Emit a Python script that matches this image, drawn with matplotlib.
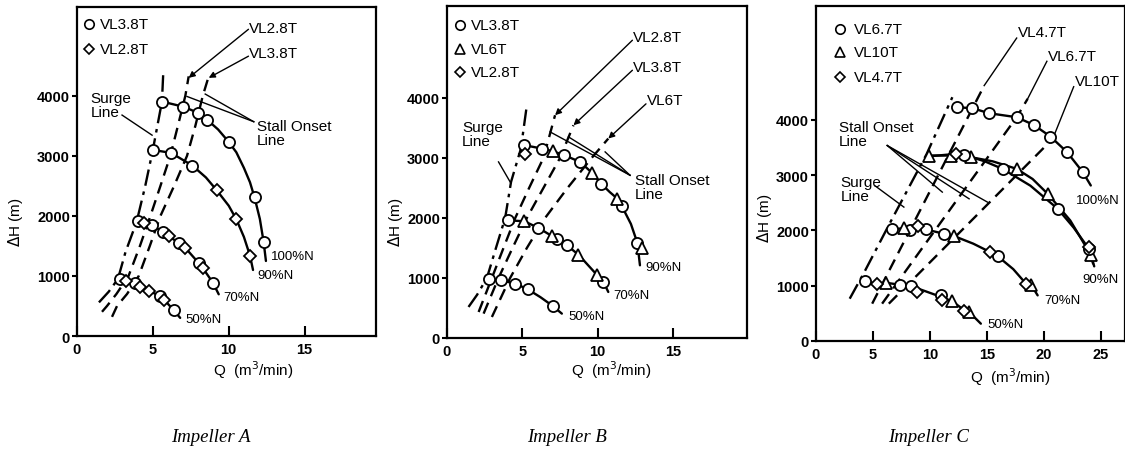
import matplotlib
matplotlib.use('Agg')
import matplotlib.pyplot as plt

plt.rcParams['font.family'] = ['Liberation Sans', 'DejaVu Sans']

# ======================= Impeller A =======================
A_LEG = ['VL3.8T', 'VL2.8T']            # circle, diamond
A100_Q_O = [5.6, 7.0, 7.96, 8.6, 10.0, 11.7, 12.3]
A100_H_O = [3905, 3820, 3720, 3597, 3232, 2308, 1563]
A100_LQ = [5.6, 7.0, 7.96, 8.6, 9.3, 10.0, 10.5, 11.0, 11.4, 11.7, 12.05, 12.3, 12.45]
A100_LH = [3905, 3820, 3720, 3597, 3440, 3232, 3060, 2800, 2560, 2308, 1950, 1563, 1250]

A90_Q_O = [5.0, 6.2, 7.6]
A90_H_O = [3100, 3050, 2840]
A90_Q_D = [9.2, 10.5, 11.4]
A90_H_D = [2430, 1944, 1339]
A90_LQ = [5.0, 6.2, 7.6, 8.5, 9.2, 10.0, 10.5, 11.0, 11.4, 11.6]
A90_LH = [3100, 3050, 2840, 2640, 2430, 2170, 1944, 1650, 1339, 1100]

A70_Q_O = [4.0, 4.95, 5.65, 6.7, 8.02, 8.95]
A70_H_O = [1916, 1843, 1737, 1552, 1216, 891]
A70_Q_D = [4.44, 6.04, 7.14, 8.29]
A70_H_D = [1882, 1664, 1468, 1132]
A70_LQ = [4.0, 4.44, 4.95, 5.65, 6.04, 6.7, 7.14, 8.02, 8.29, 8.95, 9.34]
A70_LH = [1916, 1882, 1843, 1737, 1664, 1552, 1468, 1216, 1132, 891, 695]

A50_Q_O = [2.86, 3.85, 5.45, 6.37]
A50_H_O = [947, 880, 667, 431]
A50_Q_D = [3.25, 4.18, 4.77, 5.76]
A50_H_D = [919, 824, 750, 600]
A50_LQ = [2.86, 3.25, 3.85, 4.18, 4.77, 5.45, 5.76, 6.37, 6.8]
A50_LH = [947, 919, 880, 824, 750, 667, 600, 431, 302]

A_SURGE_Q = [1.45, 2.1, 2.7, 3.2, 3.93, 4.5, 5.0, 5.6, 5.68]
A_SURGE_H = [560, 740, 950, 1400, 1900, 2500, 3100, 3905, 4350]
A_ST28_Q = [1.65, 1.98, 2.6, 3.4, 4.15, 4.84, 5.5, 6.15, 6.65, 7.14, 7.36]
A_ST28_H = [403, 500, 700, 1000, 1500, 2000, 2500, 3000, 3500, 4000, 4325]
A_ST38_Q = [2.31, 2.64, 3.3, 4.07, 4.8, 5.5, 6.4, 7.25, 7.8, 8.29, 8.68]
A_ST38_H = [319, 500, 700, 1000, 1500, 2000, 2500, 3000, 3500, 4000, 4325]

# ======================= Impeller B =======================
B_LEG = ['VL3.8T', 'VL6T', 'VL2.8T']    # circle, triangle, diamond
B90_Q_O = [5.14, 6.29, 7.79, 8.83, 10.22, 11.59, 12.63]
B90_H_O = [3211, 3156, 3044, 2933, 2572, 2200, 1583]
B90_Q_T = [7.02, 9.6, 11.3, 12.91]
B90_H_T = [3111, 2756, 2322, 1500]
B90_Q_D = [5.19]
B90_H_D = [3072]
B90_LQ = [5.14, 6.29, 7.02, 7.79, 8.83, 9.6, 10.22, 10.8, 11.3, 11.59, 12.2, 12.63, 12.8]
B90_LH = [3211, 3156, 3111, 3044, 2933, 2756, 2572, 2430, 2322, 2200, 1900, 1583, 1211]

B70_Q_O = [4.04, 6.07, 7.28, 7.95, 10.38]
B70_H_O = [1961, 1833, 1656, 1544, 933]
B70_Q_T = [5.14, 6.95, 8.72, 9.93]
B70_H_T = [1944, 1700, 1389, 1056]
B70_LQ = [4.04, 5.14, 6.07, 6.95, 7.28, 7.95, 8.72, 9.93, 10.38, 10.7]
B70_LH = [1961, 1944, 1833, 1700, 1656, 1544, 1389, 1056, 933, 767]

B50_Q_O = [2.8, 3.6, 4.53, 5.36, 7.02]
B50_H_O = [978, 961, 906, 811, 533]
B50_LQ = [2.8, 3.6, 4.53, 5.36, 6.2, 7.02, 7.62]
B50_LH = [978, 961, 906, 811, 680, 533, 406]

B_SURGE_Q = [1.43, 2.0, 2.65, 3.25, 3.86, 4.25, 4.9, 5.3]
B_SURGE_H = [517, 720, 1000, 1500, 2000, 2600, 3150, 3880]
B_ST28_Q = [2.1, 2.98, 3.75, 4.53, 5.45, 6.4, 7.17]
B_ST28_H = [433, 1000, 1500, 2000, 2500, 3000, 3711]
B_ST38_Q = [2.43, 3.42, 4.35, 5.3, 6.4, 7.5, 8.39]
B_ST38_H = [406, 1000, 1500, 2000, 2500, 3000, 3544]
B_ST6_Q = [2.98, 4.19, 5.3, 6.51, 8.0, 9.6, 10.7]
B_ST6_H = [350, 1000, 1500, 2000, 2500, 3000, 3322]

# ======================= Impeller C =======================
C_LEG = ['VL6.7T', 'VL10T', 'VL4.7T']   # circle, triangle, diamond
C100_Q_O = [12.35, 13.72, 15.19, 17.6, 19.09, 20.56, 22.02, 23.4]
C100_H_O = [4229, 4211, 4120, 4048, 3910, 3699, 3416, 3054]
C100_LQ = [12.35, 13.72, 15.19, 17.6, 19.09, 20.56, 22.02, 23.4, 24.1]
C100_LH = [4229, 4211, 4120, 4048, 3910, 3699, 3416, 3054, 2813]

C90_Q_T = [9.91, 11.82, 13.58, 17.6, 20.32, 24.13]
C90_H_T = [3355, 3355, 3325, 3114, 2663, 1548]
C90_Q_O = [12.99, 16.36, 21.2, 23.93]
C90_H_O = [3367, 3114, 2392, 1669]
C90_Q_D = [12.32, 23.9]
C90_H_D = [3386, 1700]
C90_LQ_T = [9.91, 11.82, 13.58, 15.5, 17.6, 19.0, 20.32, 22.3, 24.13, 24.4]
C90_LH_T = [3355, 3355, 3325, 3250, 3114, 2930, 2663, 2180, 1548, 1350]
C90_LQ_O = [9.91, 12.32, 12.99, 14.8, 16.36, 18.8, 21.2, 22.6, 23.93, 24.3]
C90_LH_O = [3340, 3386, 3367, 3250, 3114, 2810, 2392, 2050, 1669, 1400]

C70_Q_O = [6.69, 8.24, 9.62, 11.23, 15.92]
C70_H_O = [2018, 2012, 2018, 1940, 1536]
C70_Q_T = [7.71, 12.11, 18.86]
C70_H_T = [2042, 1898, 1018]
C70_Q_D = [8.97, 15.28, 18.42]
C70_H_D = [2072, 1608, 1036]
C70_LQ = [6.69, 7.71, 8.97, 9.62, 11.23, 12.11, 13.8, 15.28, 15.92, 17.3, 18.42, 18.86, 19.44]
C70_LH = [2018, 2042, 2060, 2018, 1940, 1898, 1760, 1608, 1536, 1300, 1036, 1018, 825]

C50_Q_O = [4.28, 7.36, 8.3, 10.94]
C50_H_O = [1078, 1018, 994, 825]
C50_Q_T = [6.1, 11.96, 13.43]
C50_H_T = [1054, 717, 524]
C50_Q_D = [5.37, 8.89, 11.08, 12.99]
C50_H_D = [1036, 886, 735, 542]
C50_LQ = [4.28, 5.37, 6.1, 7.36, 8.3, 9.6, 10.94, 11.96, 12.99, 13.43, 14.46]
C50_LH = [1078, 1036, 1054, 1018, 994, 900, 800, 717, 560, 524, 313]

C_SURGE_Q = [2.96, 4.2, 6.5, 9.7, 11.96]
C_SURGE_H = [765, 1230, 2140, 3380, 4410]
C_ST47_Q = [4.93, 14.75]
C_ST47_H = [675, 4620]
C_ST67_Q = [5.8, 17.6, 18.56]
C_ST67_H = [675, 4048, 4380]
C_ST10_Q = [6.39, 20.76]
C_ST10_H = [675, 3657]

# ======================= drawing =======================
K = 'black'
fig = plt.figure(figsize=(11.25, 4.52), dpi=100)

MS = 8
MARK = {'o': dict(marker='o', ms=MS), '^': dict(marker='^', ms=MS), 'D': dict(marker='D', ms=MS * 0.72)}


def marks(ax, q, h, m):
    ax.plot(q, h, ls='none', mfc='white', mec=K, mew=1.3, zorder=5, **MARK[m])


def curve(ax, q, h):
    ax.plot(q, h, color=K, lw=1.7, zorder=3, solid_capstyle='round')


def surge(ax, q, h):
    ax.plot(q, h, color=K, lw=1.7, dashes=(7, 2.5, 1.5, 2.5), zorder=2)


def stall(ax, q, h):
    ax.plot(q, h, color=K, lw=1.7, dashes=(5, 3), zorder=2)


def leader(ax, x0, y0, x1, y1, arrow=False):
    if arrow:
        ax.annotate('', xy=(x1, y1), xytext=(x0, y0),
                    arrowprops=dict(arrowstyle='-|>', color=K, lw=1.0,
                                    mutation_scale=9, shrinkA=0, shrinkB=0))
    else:
        ax.plot([x0, x1], [y0, y1], color=K, lw=1.0, zorder=4)


def style(ax, xmax, ymax, xt, xlab_x, xlab_y, ylab_x, ylab_y):
    ax.set_xlim(0, xmax)
    ax.set_ylim(0, ymax)
    ax.set_xticks(xt)
    ax.set_yticks([0, 1000, 2000, 3000, 4000])
    for s in ax.spines.values():
        s.set_linewidth(1.6)
    ax.tick_params(axis='x', direction='in', length=7, width=1.5, labelsize=10.5, pad=4)
    ax.tick_params(axis='y', direction='out', length=3.5, width=1.5, labelsize=10.5, pad=1.5)
    for lab in ax.get_xticklabels() + ax.get_yticklabels():
        lab.set_fontweight('bold')
    ax.text(xlab_x, xlab_y, r'Q  (m$^3$/min)', transform=ax.transAxes,
            ha='center', va='center', fontsize=11)
    ax.text(ylab_x, ylab_y, r'$\Delta$H (m)', transform=ax.transAxes, rotation=90,
            ha='center', va='center', fontsize=11)


def legend(ax, labels, markers, xm, xt, ys):
    for lab, m, y in zip(labels, markers, ys):
        ax.plot([xm], [y], ls='none', mfc='white', mec=K, mew=1.2, zorder=5,
                **{**MARK[m], 'ms': MARK[m]['ms'] * 0.85})
        ax.text(xt, y, lab, ha='left', va='center', fontsize=11)


FS = 11
SFS = 9.5

# ---- A ----
ax = fig.add_axes([0.0684, 0.2544, 0.2658, 0.7279])
style(ax, 19.7, 5480, [0, 5, 10, 15], 0.59, -0.10, -0.207, 0.35)
surge(ax, A_SURGE_Q, A_SURGE_H)
stall(ax, A_ST28_Q, A_ST28_H)
stall(ax, A_ST38_Q, A_ST38_H)
for lq, lh in [(A100_LQ, A100_LH), (A90_LQ, A90_LH), (A70_LQ, A70_LH), (A50_LQ, A50_LH)]:
    curve(ax, lq, lh)
for q, h, m in [(A100_Q_O, A100_H_O, 'o'), (A90_Q_O, A90_H_O, 'o'), (A90_Q_D, A90_H_D, 'D'),
                (A70_Q_O, A70_H_O, 'o'), (A70_Q_D, A70_H_D, 'D'),
                (A50_Q_O, A50_H_O, 'o'), (A50_Q_D, A50_H_D, 'D')]:
    marks(ax, q, h, m)
legend(ax, A_LEG, ['o', 'D'], 0.77, 1.5, [5193, 4773])
ax.text(11.3, 5137, 'VL2.8T', fontsize=FS, va='center')
ax.text(11.3, 4717, 'VL3.8T', fontsize=FS, va='center')
leader(ax, 11.3, 5109, 7.36, 4300, arrow=True)
leader(ax, 11.3, 4661, 8.68, 4300, arrow=True)
ax.text(0.9, 3850, 'Surge\nLine', fontsize=FS, va='center', linespacing=1.0)
leader(ax, 2.97, 3680, 4.95, 3345)
ax.text(11.85, 3380, 'Stall Onset\nLine', fontsize=FS, va='center', linespacing=1.0)
leader(ax, 11.65, 3569, 7.25, 3990)
leader(ax, 11.65, 3569, 8.45, 4030)
ax.text(12.75, 1328, '100%N', fontsize=SFS, va='center')
ax.text(11.87, 1020, '90%N', fontsize=SFS, va='center')
ax.text(9.67, 655, '70%N', fontsize=SFS, va='center')
ax.text(7.14, 280, '50%N', fontsize=SFS, va='center')

# ---- B ----
ax = fig.add_axes([0.3973, 0.25, 0.2667, 0.7345])
style(ax, 19.9, 5530, [0, 5, 10, 15], 0.547, -0.095, -0.172, 0.352)
surge(ax, B_SURGE_Q, B_SURGE_H)
stall(ax, B_ST28_Q, B_ST28_H)
stall(ax, B_ST38_Q, B_ST38_H)
stall(ax, B_ST6_Q, B_ST6_H)
for lq, lh in [(B90_LQ, B90_LH), (B70_LQ, B70_LH), (B50_LQ, B50_LH)]:
    curve(ax, lq, lh)
for q, h, m in [(B90_Q_O, B90_H_O, 'o'), (B90_Q_T, B90_H_T, '^'), (B90_Q_D, B90_H_D, 'D'),
                (B70_Q_O, B70_H_O, 'o'), (B70_Q_T, B70_H_T, '^'), (B50_Q_O, B50_H_O, 'o')]:
    marks(ax, q, h, m)
legend(ax, B_LEG, ['o', '^', 'D'], 0.88, 1.62, [5211, 4822, 4433])
ax.text(12.36, 5017, 'VL2.8T', fontsize=FS, va='center')
ax.text(12.36, 4517, 'VL3.8T', fontsize=FS, va='center')
ax.text(13.25, 3961, 'VL6T', fontsize=FS, va='center')
leader(ax, 12.3, 4960, 7.17, 3711, arrow=True)
leader(ax, 12.3, 4460, 8.39, 3544, arrow=True)
leader(ax, 13.2, 3900, 10.7, 3322, arrow=True)
ax.text(0.99, 3405, 'Surge\nLine', fontsize=FS, va='center', linespacing=1.0)
leader(ax, 3.42, 2933, 4.19, 2600)
ax.text(12.47, 2520, 'Stall Onset\nLine', fontsize=FS, va='center', linespacing=1.0)
leader(ax, 12.14, 2711, 6.84, 3433)
leader(ax, 12.14, 2711, 8.06, 3350)
leader(ax, 12.14, 2711, 10.49, 3100)
ax.text(13.13, 1183, '90%N', fontsize=SFS, va='center')
ax.text(11.04, 711, '70%N', fontsize=SFS, va='center')
ax.text(8.06, 367, '50%N', fontsize=SFS, va='center')

# ---- C ----
ax = fig.add_axes([0.7253, 0.2434, 0.2747, 0.7411])
style(ax, 27.1, 6060, [0, 5, 10, 15, 20, 25], 0.628, -0.105, -0.168, 0.37)
surge(ax, C_SURGE_Q, C_SURGE_H)
stall(ax, C_ST47_Q, C_ST47_H)
stall(ax, C_ST67_Q, C_ST67_H)
stall(ax, C_ST10_Q, C_ST10_H)
for lq, lh in [(C100_LQ, C100_LH), (C90_LQ_T, C90_LH_T), (C90_LQ_O, C90_LH_O),
               (C70_LQ, C70_LH), (C50_LQ, C50_LH)]:
    curve(ax, lq, lh)
for q, h, m in [(C100_Q_O, C100_H_O, 'o'),
                (C90_Q_T, C90_H_T, '^'), (C90_Q_O, C90_H_O, 'o'), (C90_Q_D, C90_H_D, 'D'),
                (C70_Q_O, C70_H_O, 'o'), (C70_Q_T, C70_H_T, '^'), (C70_Q_D, C70_H_D, 'D'),
                (C50_Q_O, C50_H_O, 'o'), (C50_Q_T, C50_H_T, '^'), (C50_Q_D, C50_H_D, 'D')]:
    marks(ax, q, h, m)
legend(ax, C_LEG, ['o', '^', 'D'], 2.14, 3.3, [5645, 5223, 4771])
ax.text(17.68, 5584, 'VL4.7T', fontsize=FS, va='center')
ax.text(20.32, 5163, 'VL6.7T', fontsize=FS, va='center')
ax.text(22.67, 4711, 'VL10T', fontsize=FS, va='center')
leader(ax, 17.6, 5480, 14.75, 4620)
leader(ax, 20.25, 5060, 18.56, 4380)
leader(ax, 22.6, 4600, 20.76, 3657)
ax.text(2.0, 3740, 'Stall Onset\nLine', fontsize=FS, va='center', linespacing=1.0)
leader(ax, 6.25, 3536, 11.08, 2693)
leader(ax, 6.25, 3536, 13.43, 2572)
leader(ax, 6.25, 3536, 15.04, 2512)
ax.text(2.14, 2750, 'Surge\nLine', fontsize=FS, va='center', linespacing=1.0)
leader(ax, 5.22, 2801, 7.71, 2422)
ax.text(22.8, 2542, '100%N', fontsize=SFS, va='center')
ax.text(23.4, 1127, '90%N', fontsize=SFS, va='center')
ax.text(20.03, 735, '70%N', fontsize=SFS, va='center')
ax.text(15.04, 313, '50%N', fontsize=SFS, va='center')

# ---- captions ----
for xc, t in [(211, 'Impeller A'), (567, 'Impeller B'), (929, 'Impeller C')]:
    fig.text(xc / 1125, 1 - 438 / 452, t, ha='center', va='center', fontsize=13.5,
             family=['Liberation Serif', 'DejaVu Serif'], style='italic')

fig.savefig('out.png', dpi=100, facecolor='white')
